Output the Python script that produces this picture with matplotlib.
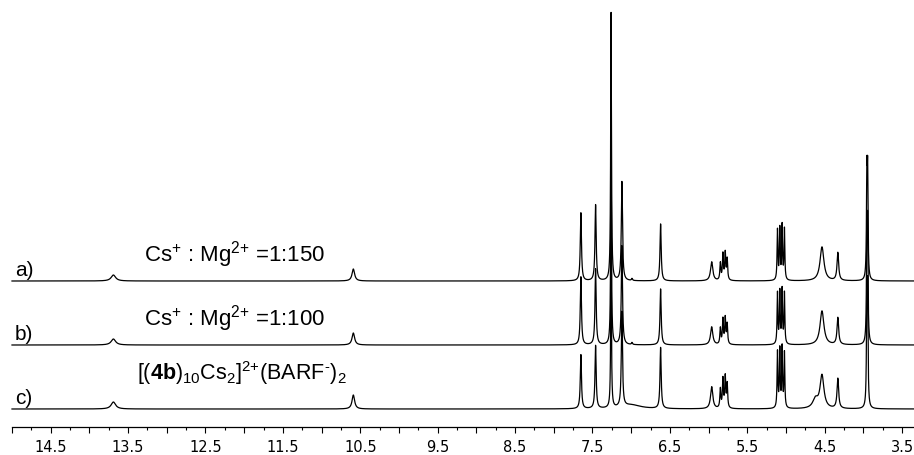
import numpy as np
import matplotlib
matplotlib.use("Agg")
import matplotlib.pyplot as plt
from matplotlib.ticker import MultipleLocator, FuncFormatter

plt.rcParams['mathtext.fontset'] = 'custom'
plt.rcParams['mathtext.rm'] = 'Liberation Sans'
plt.rcParams['mathtext.it'] = 'Liberation Sans:italic'
plt.rcParams['mathtext.bf'] = 'Liberation Sans:bold'

# ---- peak list (chemical shift, ppm) and line widths (ppm) ----
shifts = [13.69, 10.59, 7.65, 7.46, 7.26, 7.12, 7.00, 6.99, 6.62, 5.96,
          5.848, 5.815, 5.785, 5.76, 5.11, 5.08, 5.05, 5.02,
          4.62, 4.535, 4.33, 3.955, 3.945]
widths = [0.07, 0.04, 0.018, 0.018, 0.012, 0.018, 0.30, 0.015, 0.018, 0.035,
          0.015, 0.015, 0.015, 0.015, 0.012, 0.012, 0.012, 0.012,
          0.08, 0.06, 0.025, 0.012, 0.012]

# ---- peak intensities for each spectrum ----
heights_a = [6, 12, 68, 76, 268, 99, 0, 2, 57, 19,
             17, 26, 27, 21, 50, 51, 54, 51,
             0, 34, 28, 98, 98]
heights_b = [6, 12, 68, 76, 205, 99, 0, 2, 56, 18,
             16, 25, 26, 20, 51, 52, 54, 51,
             0, 34, 27, 105, 105]
heights_c = [7, 14, 54, 63, 150, 95, 4, 0, 61, 22,
             19, 29, 31, 24, 56, 58, 60, 55,
             9, 33, 30, 104, 104]

trace_labels = ["a)", "b)", "c)"]
titles = [r"Cs$^{\text{+}}$ : Mg$^{\text{2+}}$ =1:150",
          r"Cs$^{\text{+}}$ : Mg$^{\text{2+}}$ =1:100",
          r"[($\mathbf{4b}$)$_{\text{10}}$Cs$_{\text{2}}$]$^{\text{2+}}$(BARF$^{\text{-}}$)$_{\text{2}}$"]

ppm = np.linspace(15.0, 3.34, 60000)


def spectrum(heights):
    y = np.zeros_like(ppm)
    for s, w, h in zip(shifts, widths, heights):
        y += h / (1.0 + ((ppm - s) / (w / 2.0)) ** 2)
    return y


fig = plt.figure(figsize=(9.14, 4.55), dpi=100)
ax = fig.add_axes([0, 28 / 455, 1, 427 / 455])
ax.set_xlim(15.155, 3.346)
ax.set_ylim(0, 427)

offsets = [146, 82, 18]
for hts, off in zip([heights_a, heights_b, heights_c], offsets):
    ax.plot(ppm, off + spectrum(hts), color="black", lw=0.9)

label_y = [151, 87, 23]
title_y = [165, 101, 47]
title_x = [12.13, 12.13, 12.03]
title_size = [16, 16, 15.5]
for lab, ly, t, tx, ty, ts in zip(trace_labels, label_y, titles, title_x,
                                  title_y, title_size):
    ax.text(14.96, ly, lab, fontsize=15, family="Liberation Sans",
            ha="left", va="baseline")
    ax.text(tx, ty, t, fontsize=ts, family="Liberation Sans",
            ha="center", va="baseline")

for sp in ["left", "right", "top"]:
    ax.spines[sp].set_visible(False)
ax.spines["bottom"].set_bounds(15.0, 3.346)
ax.spines["bottom"].set_linewidth(0.9)
ax.set_yticks([])

ax.xaxis.set_major_locator(MultipleLocator(0.5))
ax.xaxis.set_minor_locator(MultipleLocator(0.25))


def fmt(v, _):
    frac = v - np.floor(v)
    return f"{v:.1f}" if abs(frac - 0.5) < 1e-6 else ""


ax.xaxis.set_major_formatter(FuncFormatter(fmt))
ax.tick_params(axis="x", which="major", direction="out", length=4, width=0.8,
               pad=5, labelsize=10.5)
ax.tick_params(axis="x", which="minor", direction="out", length=2, width=0.8)

fig.savefig("out.png", dpi=100)
